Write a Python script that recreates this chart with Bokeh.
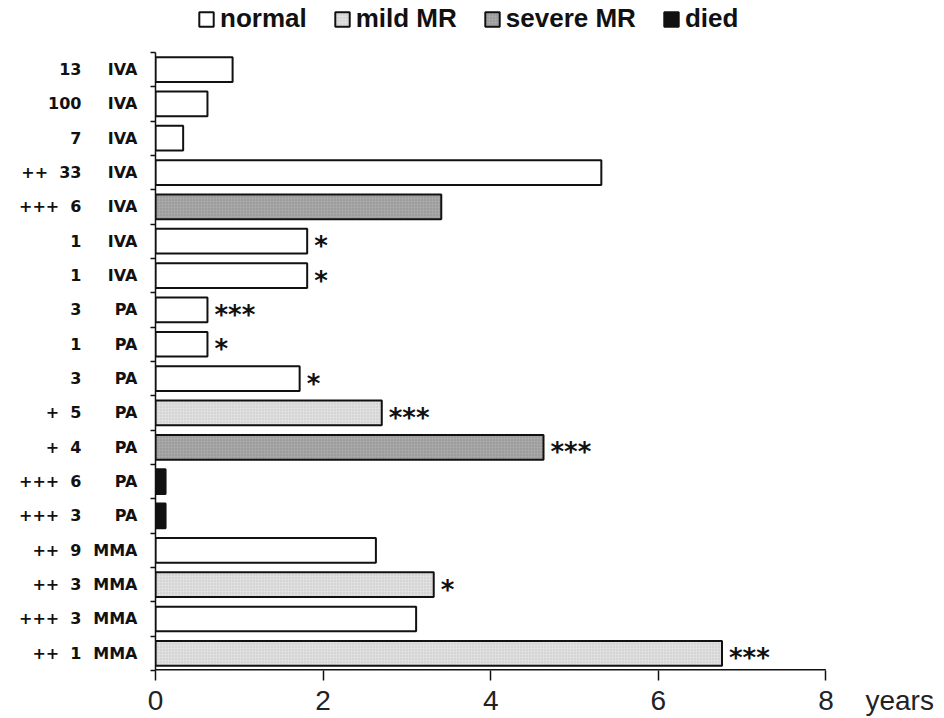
from bokeh.plotting import figure
from bokeh.models import (ColumnDataSource, Range1d, FixedTicker, LinearAxis, Legend,
                          LegendItem, CDSView, GroupFilter)
from bokeh.core.properties import value
from bokeh.embed import file_html
from bokeh.resources import INLINE

# ---- data (top to bottom) ----
marks = ["", "", "", "++", "+++", "", "", "", "", "", "+", "+", "+++", "+++", "++", "++", "+++", "++"]
numbers = ["13", "100", "7", "33", "6", "1", "1", "3", "1", "3", "5", "4", "6", "3", "9", "3", "3", "1"]
disease = ["IVA"] * 7 + ["PA"] * 7 + ["MMA"] * 4
years = [0.92, 0.62, 0.33, 5.32, 3.41, 1.81, 1.81, 0.62, 0.62, 1.72, 2.70, 4.63, 0.12, 0.12, 2.63, 3.32, 3.11, 6.76]
outcome = ["normal", "normal", "normal", "normal", "severe MR", "normal", "normal", "normal", "normal", "normal",
           "mild MR", "severe MR", "died", "died", "normal", "mild MR", "normal", "mild MR"]
signif = ["", "", "", "", "", "*", "*", "***", "*", "*", "***", "***", "", "", "", "*", "", "***"]
categories = ["normal", "mild MR", "severe MR", "died"]
x_ticks = [0, 2, 4, 6, 8]
x_unit_label = "years"
x_unit_pos = 8.88

n = len(years)
rows = [n - 1 - i for i in range(n)]

src = ColumnDataSource(dict(y=rows, years=years, outcome=outcome, sig=signif))

p = figure(width=944, height=718, output_backend="svg", toolbar_location=None,
           x_range=Range1d(0, 9.415), y_range=Range1d(-0.5, 19.01),
           min_border_left=155, min_border_right=0, min_border_top=0, min_border_bottom=46)
p.outline_line_color = None
p.xgrid.visible = False
p.ygrid.visible = False
p.background_fill_color = "white"

styles = {
    "normal": dict(fill_color="white"),
    "mild MR": dict(fill_color="#e0e0e0", hatch_pattern="dot", hatch_color="#c4c4c4", hatch_scale=3, hatch_weight=1),
    "severe MR": dict(fill_color="#a8a8a8", hatch_pattern="dot", hatch_color="#8a8a8a", hatch_scale=3, hatch_weight=1),
    "died": dict(fill_color="#111111"),
}

items = []
for cat in categories:
    view = CDSView(filter=GroupFilter(column_name="outcome", group=cat))
    r = p.hbar(y="y", left=0, right="years", height=0.72, source=src, view=view,
               line_color="#111111", line_width=2, **styles[cat])
    items.append(LegendItem(label=cat, renderers=[r]))

p.text(x="years", y="y", text="sig", source=src, x_offset=7, y_offset=5,
       text_font=value("DejaVu Sans"), text_font_style="bold", text_font_size="26px",
       text_baseline="middle", text_color="#111111")

# x axis line limited to the tick span (drawn at the frame bottom)
p.segment(x0=[x_ticks[0]], x1=[x_ticks[-1]], y0=[-0.5], y1=[-0.5], line_color="#111111", line_width=3)

legend = Legend(items=items, orientation="horizontal", location=(42, 636),
                glyph_width=18, glyph_height=18, label_standoff=5, spacing=26,
                padding=0, margin=0, border_line_color=None, background_fill_alpha=0,
                label_text_font="Liberation Sans", label_text_font_style="bold",
                label_text_font_size="26px", label_text_color="#111111")
p.add_layout(legend)

# x axis: ticks drawn as minor ticks, the unit label as an extra labelled tick
xa = p.xaxis[0]
xa.ticker = FixedTicker(ticks=x_ticks + [x_unit_pos], minor_ticks=x_ticks)
xa.major_label_overrides = {x_unit_pos: x_unit_label}
xa.axis_line_color = None
xa.major_tick_line_color = None
xa.major_tick_out = 10
xa.major_tick_in = 0
xa.minor_tick_out = 10
xa.minor_tick_in = 0
xa.minor_tick_line_width = 1.5
xa.minor_tick_line_color = "#111111"
xa.major_label_text_font = "Liberation Sans"
xa.major_label_text_font_size = "28px"
xa.major_label_text_color = "#222222"
xa.major_label_standoff = 4

# y axes
ticker = FixedTicker(ticks=rows, minor_ticks=[i - 0.5 for i in range(n + 1)])
ya = p.yaxis[0]
ya.ticker = ticker
ya.bounds = (-0.5, n - 0.5)
ya.major_tick_out = 0
ya.major_tick_in = 0
ya.minor_tick_out = 5
ya.minor_tick_in = 0
ya.minor_tick_line_width = 1.5
ya.minor_tick_line_color = "#111111"
ya.axis_line_width = 1.5
ya.axis_line_color = "#111111"
ya.major_label_overrides = {rows[i]: disease[i] for i in range(n)}
ya.major_label_standoff = 13
ya.major_label_text_font = "DejaVu Sans"
ya.major_label_text_font_style = "bold"
ya.major_label_text_font_size = "16px"
ya.major_label_text_color = "#111111"

ids = [(marks[i] + "\u00a0\u00a0" + numbers[i]) if marks[i] else numbers[i] for i in range(n)]
ax2 = LinearAxis(ticker=ticker, axis_line_color=None, major_tick_line_color=None,
                 minor_tick_line_color=None, major_tick_out=0, major_tick_in=0,
                 minor_tick_out=0, minor_tick_in=0, major_label_standoff=9,
                 major_label_text_font="DejaVu Sans", major_label_text_font_style="bold",
                 major_label_text_font_size="16px", major_label_text_color="#111111")
ax2.major_label_overrides = {rows[i]: ids[i] for i in range(n)}
p.add_layout(ax2, "left")

open("out.html", "w").write(file_html(p, INLINE))
